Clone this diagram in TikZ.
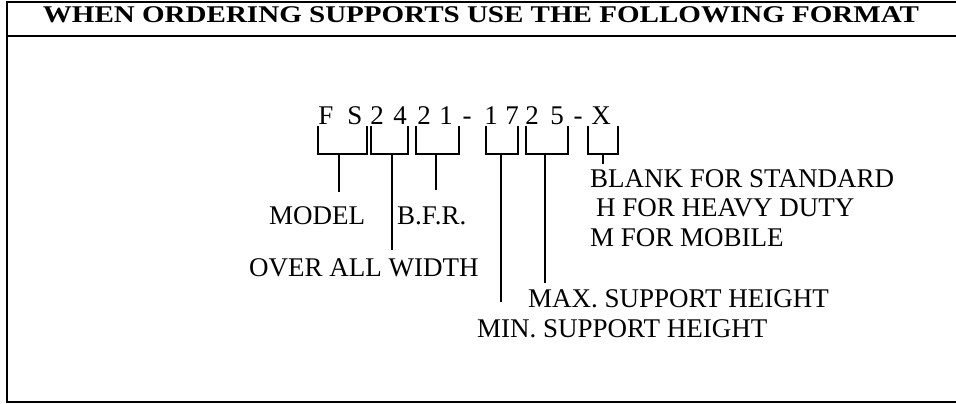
\documentclass[tikz,border=0pt]{standalone}
\usepackage{fontspec}
\setmainfont{Liberation Serif}
\begin{document}
\begin{tikzpicture}[x=1pt,y=-1pt,
  lbl/.style={inner sep=0pt,anchor=base west,font=\fontsize{27}{27}\selectfont},
  chr/.style={inner sep=0pt,anchor=base,font=\fontsize{27}{27}\selectfont},
  brk/.style={line width=1.8pt},
  frm/.style={line width=2pt}]
\useasboundingbox (0,0) rectangle (956,404);
% frame
\draw[frm] (958,2) -- (7,2) -- (7,402) -- (958,402);
\draw[frm] (7,36) -- (958,36);
\node[inner sep=0pt,anchor=base] (title) at (481,23)
  {\scalebox{1.21}[1]{\fontsize{24}{24}\selectfont\bfseries WHEN ORDERING SUPPORTS USE THE FOLLOWING FORMAT}};
% code characters
\foreach \n/\x/\c in {c1/326/F,c2/355/S,c3/377/2,c4/400/4,c5/424/2,c6/446/1,c7/467/-,c8/491/1,c9/512/7,c10/532/2,c11/557/5,c12/578/-,c13/601/X}
  \node[chr] (\n) at (\x,124) {\c};
% brackets
\foreach \a/\b/\s/\nm in {318/367/339/bm,371/408/392/bw,416/459/436/bb,486/518/501/bn,526/568/545/bx,588/618/603/bs}{
  \draw[brk] (\a,126) -- (\a,154) -- (\b,154) -- (\b,126);
  \coordinate (\nm) at (\s,154);
}
% labels
\node[lbl] (model) at (269,224) {MODEL};
\node[lbl] (bfr) at (397,224) {B.F.R.};
\node[lbl] (width) at (249,276) {OVER ALL WIDTH};
\node[lbl] (maxh) at (528,307) {MAX. SUPPORT HEIGHT};
\node[lbl] (minh) at (477,337) {MIN. SUPPORT HEIGHT};
\node[lbl] (blank) at (590,187) {BLANK FOR STANDARD};
\node[lbl] (heavy) at (596,216) {H FOR HEAVY DUTY};
\node[lbl] (mobile) at (590,246) {M FOR MOBILE};
% stems
\coordinate (em) at (339,192);
\coordinate (ew) at (392,250);
\coordinate (eb) at (436,190);
\coordinate (en) at (501,302);
\coordinate (ex) at (545,283);
\coordinate (es) at (603,164);
\draw[brk] (bm) -- (em);
\draw[brk] (bw) -- (ew);
\draw[brk] (bb) -- (eb);
\draw[brk] (bn) -- (en);
\draw[brk] (bx) -- (ex);
\draw[brk] (bs) -- (es);
\end{tikzpicture}
\end{document}
